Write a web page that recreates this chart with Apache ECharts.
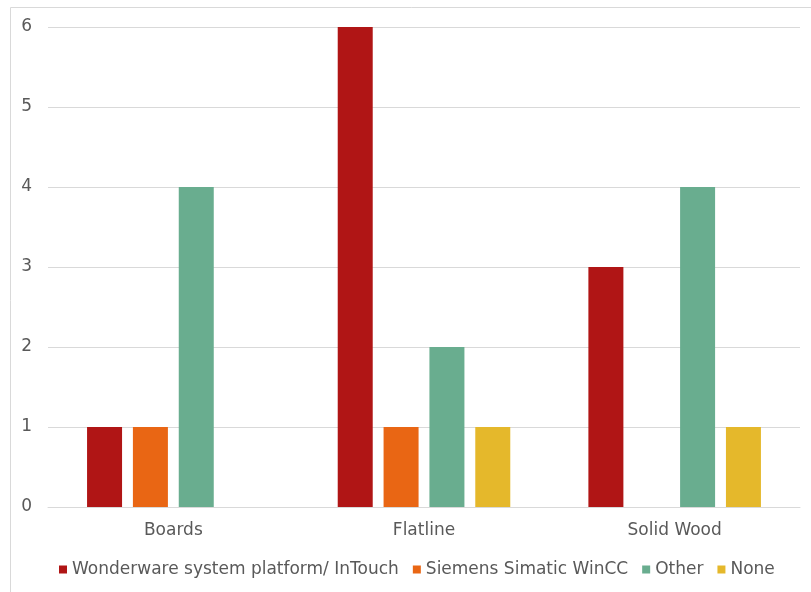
<!DOCTYPE html>
<html>
<head>
<meta charset="utf-8">
<script src="https://cdn.jsdelivr.net/npm/echarts@6/dist/echarts.min.js"></script>
<style>
  html, body { margin: 0; padding: 0; background: #fff; }
  #chart { width: 811px; height: 592px; }
</style>
</head>
<body>
<div id="chart"></div>
<script>
var categories = ["Boards", "Flatline", "Solid Wood"];
var seriesNames = ["Wonderware system platform/ InTouch", "Siemens Simatic WinCC", "Other", "None"];
var wonderware = [1, 6, 3];
var siemens = [1, 1, "-"];
var other = [4, 2, 4];
var none = ["-", 1, 1];
var colors = ["#b01515", "#e96614", "#69ad8f", "#e5b82b"];

var myChart = echarts.init(document.getElementById("chart"));
var textColor = "#595959";
var font = "DejaVu Sans";

function barSeries(name, data, i) {
  return {
    name: name,
    type: "bar",
    barWidth: 35,
    barGap: "31%",
    itemStyle: { color: colors[i] },
    data: data,
  };
}

var option = {
  animation: false,
  graphic: [
    {
      type: "rect",
      shape: { x: 10.5, y: 7.5, width: 900, height: 700 },
      style: { fill: "none", stroke: "#d9d9d9", lineWidth: 1 },
      silent: true,
    },
  ],
  grid: { left: 48, right: 11, top: 27, bottom: 85 },
  legend: {
    top: 556,
    left: 54,
    itemWidth: 8,
    itemHeight: 8,
    itemGap: 14,
    icon: "rect",
    textStyle: { color: textColor, fontFamily: font, fontSize: 17 },
    data: seriesNames,
  },
  xAxis: {
    type: "category",
    data: categories,
    axisTick: { show: false },
    axisLine: { lineStyle: { color: "#d9d9d9" } },
    axisLabel: { color: textColor, fontFamily: font, fontSize: 17, margin: 15 },
  },
  yAxis: {
    type: "value",
    min: 0,
    max: 6,
    interval: 1,
    axisLabel: { color: textColor, fontFamily: font, fontSize: 17, margin: 16 },
    splitLine: { lineStyle: { color: "#d9d9d9" } },
  },
  series: [
    barSeries(seriesNames[0], wonderware, 0),
    barSeries(seriesNames[1], siemens, 1),
    barSeries(seriesNames[2], other, 2),
    barSeries(seriesNames[3], none, 3),
  ],
};
option && myChart.setOption(option);
</script>
</body>
</html>
